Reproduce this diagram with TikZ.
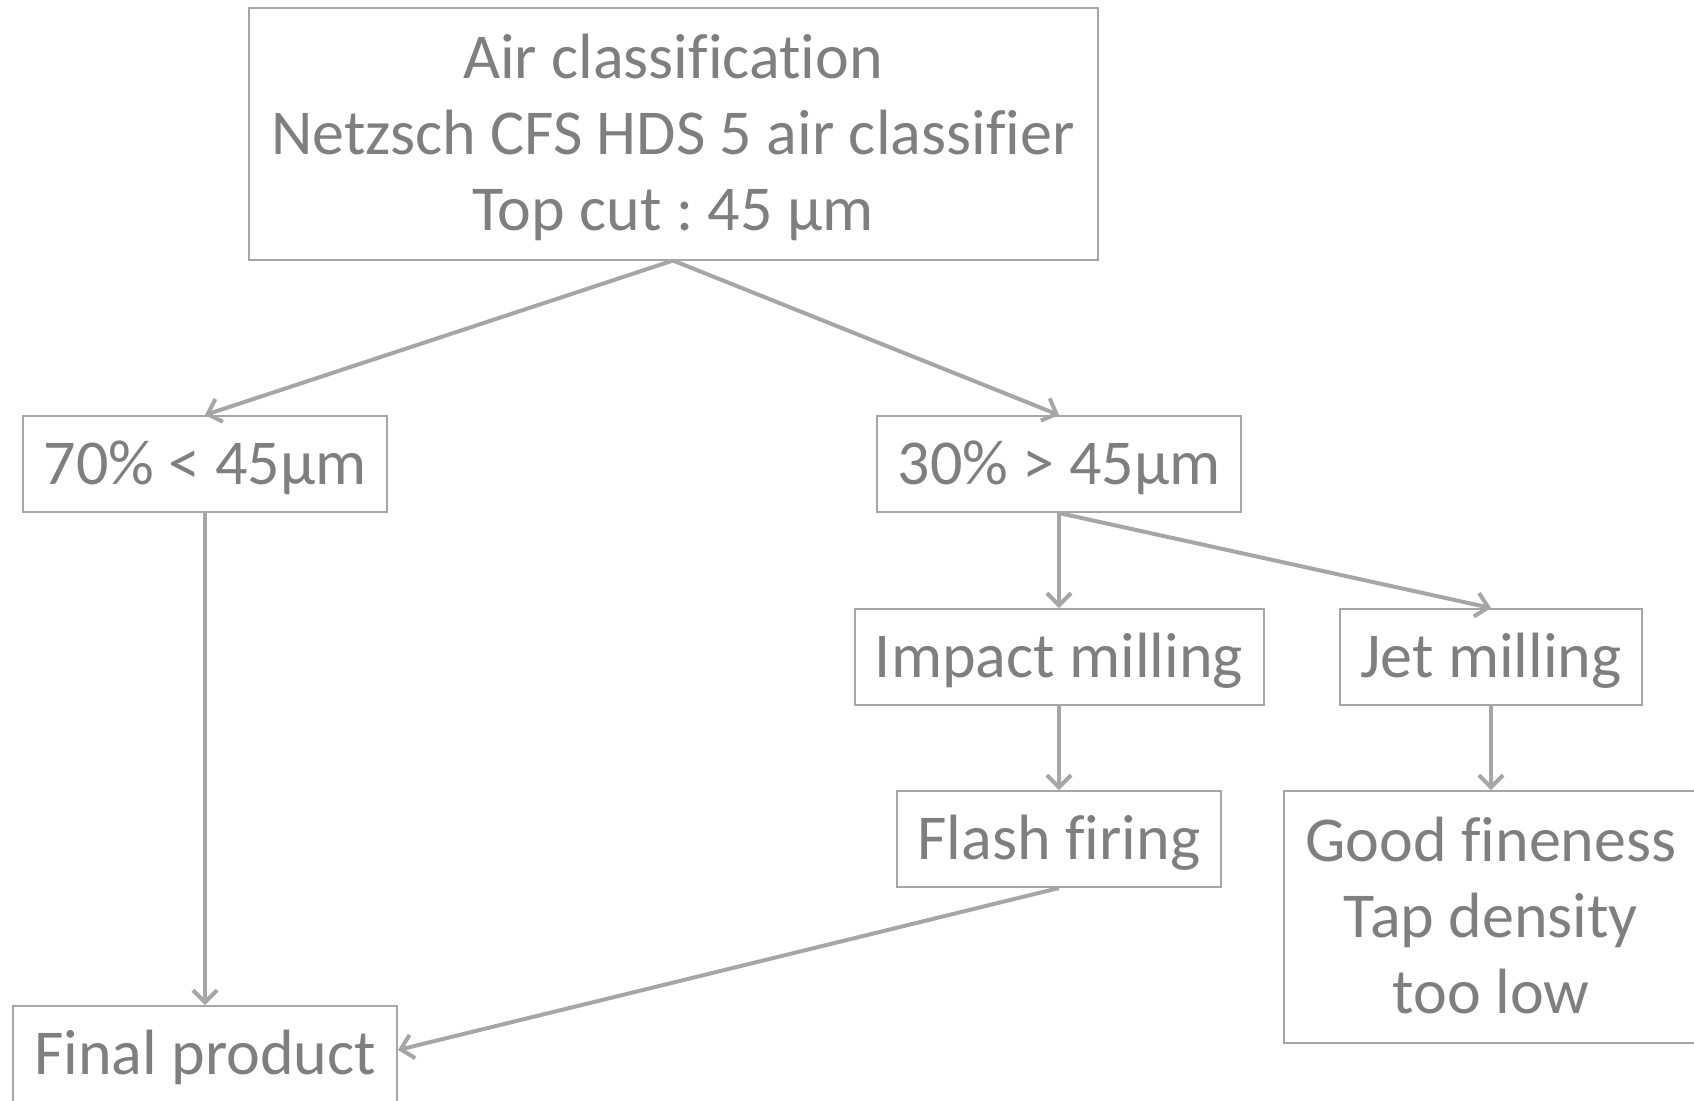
\documentclass[tikz,border=0pt]{standalone}
\usepackage{fontspec}
\setmainfont[Ligatures=NoCommon]{Carlito}
\usetikzlibrary{arrows.meta}
\definecolor{txt}{HTML}{7F7F7F}
\definecolor{ln}{HTML}{A6A6A6}
\frenchspacing
\begin{document}
\begin{tikzpicture}[x=0.5pt,y=-0.5pt,
  box/.style={draw=ln,line width=1pt,text=txt,align=center,inner sep=0pt,
    font=\fontsize{32}{38}\selectfont,minimum height=48pt,text height=24pt,text depth=3.4pt},
  tall/.style={box,minimum height=126pt,text height=100pt},
  conn/.style={draw=ln,line width=2pt,-{Straight Barb[length=6pt,width=12pt,line width=2pt]}}]
\useasboundingbox (0,0) rectangle (1694,1100);
\clip (0,0) rectangle (1694,1100);
\node[tall,minimum width=424.5pt] (top) at (673,133.5)
  {Air classification\\Netzsch CFS HDS 5 air classifier\\Top cut : 45 µm};
\node[box,minimum width=182pt] (a) at (205,464) {70\% < 45µm};
\node[box,minimum width=182pt] (b) at (1059,464) {30\% > 45µm};
\node[box,minimum width=204.5pt] (imp) at (1059,657) {Impact milling};
\node[box,minimum width=151pt] (jet) at (1491,657) {Jet milling};
\node[box,minimum width=162pt] (fla) at (1059,839) {Flash firing};
\node[tall,minimum width=207pt] (good) at (1491,917)
  {Good fineness\\Tap density\\too low};
\node[box,minimum width=192pt] (fin) at (205,1054) {Final product};
\draw[conn] (top.south) -- (a.north);
\draw[conn] (top.south) -- (b.north);
\draw[conn] (b.south) -- (imp.north);
\draw[conn] (b.south) -- (jet.north);
\draw[conn] (imp.south) -- (fla.north);
\draw[conn] (jet.south) -- (good.north);
\draw[conn] (a.south) -- (fin.north);
\coordinate (finr) at (fin.east |- 0,1050);
\draw[conn] (fla.south) -- (finr);
\end{tikzpicture}
\end{document}
